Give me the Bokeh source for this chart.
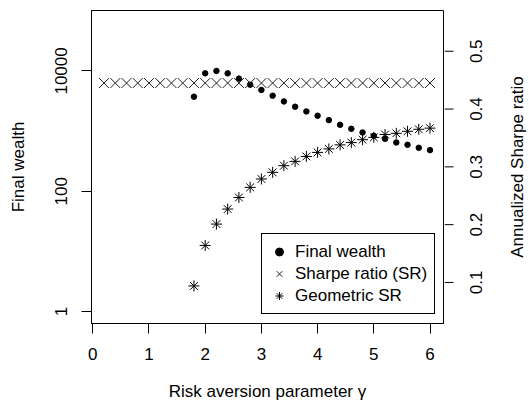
import math
from bokeh.plotting import figure
from bokeh.layouts import row
from bokeh.models import (Range1d, FixedTicker, Legend, LegendItem,
                          BasicTickFormatter, ColumnDataSource, LinearScale)
from bokeh.core.properties import value
from bokeh.embed import file_html
from bokeh.resources import INLINE

# ---- data ----
gamma_sr = [0.2, 0.4, 0.6, 0.8, 1.0, 1.2, 1.4, 1.6, 1.8, 2.0,
            2.2, 2.4, 2.6, 2.8, 3.0, 3.2, 3.4, 3.6, 3.8, 4.0,
            4.2, 4.4, 4.6, 4.8, 5.0, 5.2, 5.4, 5.6, 5.8, 6.0]
sharpe_ratio = [0.445, 0.445, 0.445, 0.445, 0.445, 0.445, 0.445, 0.445, 0.445, 0.445,
                0.445, 0.445, 0.445, 0.445, 0.445, 0.445, 0.445, 0.445, 0.445, 0.445,
                0.445, 0.445, 0.445, 0.445, 0.445, 0.445, 0.445, 0.445, 0.445, 0.445]

gamma_w = [1.8, 2.0, 2.2, 2.4, 2.6, 2.8, 3.0, 3.2, 3.4, 3.6, 3.8,
           4.0, 4.2, 4.4, 4.6, 4.8, 5.0, 5.2, 5.4, 5.6, 5.8, 6.0]
final_wealth = [3730, 9120, 10000, 9120, 7450, 5910, 4820, 3870, 3110, 2540, 2120,
                1800, 1520, 1270, 1090, 948, 835, 744, 646, 591, 527, 482]
geometric_sr = [0.094, 0.164, 0.201, 0.227, 0.247, 0.2645, 0.279, 0.2905, 0.302, 0.3095, 0.318,
                0.325, 0.331, 0.338, 0.342, 0.347, 0.351, 0.356, 0.358, 0.3615, 0.365, 0.367]

x_ticks = [0, 1, 2, 3, 4, 5, 6]
wealth_ticks = [1, 100, 10000]
sr_ticks = [0.1, 0.2, 0.3, 0.4, 0.5]
sr_tick_labels = ["0.1", "0.2", "0.3", "0.4", "0.5"]

FONT = "Liberation Sans"
FS = "17px"
TOP, BOTTOM = 10, 82

sr_range = Range1d(0.029, 0.5705)

# ---------------- main panel ----------------
p = figure(width=444, height=405, y_axis_type="log",
           x_range=Range1d(-0.023, 6.24), y_range=Range1d(10 ** -0.2, 10 ** 5.005),
           output_backend="svg", toolbar_location=None, title=None,
           min_border_left=91, min_border_right=1,
           min_border_top=TOP, min_border_bottom=BOTTOM)
p.extra_y_ranges = {"sr": sr_range}
p.extra_y_scales = {"sr": LinearScale()}

p.background_fill_color = "white"
p.border_fill_color = "white"
p.outline_line_color = "black"
p.outline_line_width = 1
p.outline_line_alpha = 1
p.xgrid.grid_line_color = None
p.ygrid.grid_line_color = None


def style(ax):
    ax.axis_line_color = "black"
    ax.major_tick_line_color = "black"
    ax.major_tick_out = 10
    ax.major_tick_in = 0
    ax.minor_tick_line_color = None
    ax.major_label_text_font = FONT
    ax.major_label_text_font_size = FS
    ax.major_label_text_color = "black"
    ax.axis_label_text_font = FONT
    ax.axis_label_text_font_size = FS
    ax.axis_label_text_font_style = "normal"
    ax.axis_label_text_color = "black"


ax_b = p.xaxis[0]
ax_l = p.yaxis[0]
style(ax_b)
style(ax_l)

ax_b.ticker = FixedTicker(ticks=x_ticks)
ax_b.axis_label = "Risk aversion parameter γ"
ax_b.major_label_standoff = 14
ax_b.axis_label_standoff = 19

ax_l.ticker = FixedTicker(ticks=wealth_ticks)
ax_l.formatter = BasicTickFormatter(use_scientific=False)
ax_l.axis_label = "Final wealth"
ax_l.major_label_orientation = "parallel"
ax_l.major_label_standoff = 14
ax_l.axis_label_standoff = 25

r1 = p.scatter(gamma_w, final_wealth, marker="circle", size=5.5,
               fill_color="black", line_color="black")
r2 = p.scatter(gamma_sr, sharpe_ratio, marker="x", size=14,
               line_color="#222222", line_width=1, y_range_name="sr")
r3 = p.scatter(gamma_w, geometric_sr, marker="asterisk", size=11,
               line_color="black", line_width=1, y_range_name="sr")

legend = Legend(items=[LegendItem(label="Final wealth", renderers=[r1]),
                       LegendItem(label="Sharpe ratio (SR)", renderers=[r2]),
                       LegendItem(label="Geometric SR", renderers=[r3])],
                location=(170, 9), padding=7, spacing=1,
                glyph_width=20, glyph_height=21, label_height=21, label_standoff=6,
                label_text_font=FONT, label_text_font_size=FS, label_text_color="black",
                border_line_color="black", border_line_width=1, border_line_alpha=1,
                background_fill_color="white", background_fill_alpha=1)
p.add_layout(legend)

# ---------------- right-hand Sharpe-ratio axis panel ----------------
RW = 529 - 444
p2 = figure(width=RW, height=405, x_range=Range1d(0, RW), y_range=sr_range,
            output_backend="svg", toolbar_location=None, title=None,
            x_axis_location=None, y_axis_location=None,
            min_border_left=0, min_border_right=0,
            min_border_top=TOP, min_border_bottom=BOTTOM)
p2.outline_line_color = None
p2.background_fill_color = "white"
p2.border_fill_color = "white"
p2.xgrid.grid_line_color = None
p2.ygrid.grid_line_color = None

tick_src = ColumnDataSource(dict(y=sr_ticks, label=sr_tick_labels,
                                 x0=[0] * len(sr_ticks), x1=[9] * len(sr_ticks),
                                 xl=[31] * len(sr_ticks)))
p2.segment(x0="x0", x1="x1", y0="y", y1="y", source=tick_src,
           line_color="black", line_width=1)
p2.text(x="xl", y="y", text="label", source=tick_src, angle=math.pi / 2,
        text_align="center", text_baseline="middle",
        text_font=value(FONT), text_font_size=value(FS), text_color="black")

title_src = ColumnDataSource(dict(x=[73], y=[(sr_range.start + sr_range.end) / 2],
                                  t=["Annualized Sharpe ratio"]))
p2.text(x="x", y="y", text="t", source=title_src, angle=math.pi / 2,
        text_align="center", text_baseline="middle",
        text_font=value(FONT), text_font_size=value(FS), text_color="black")

layout = row(p, p2)
open("out.html", "w").write(file_html(layout, INLINE))
